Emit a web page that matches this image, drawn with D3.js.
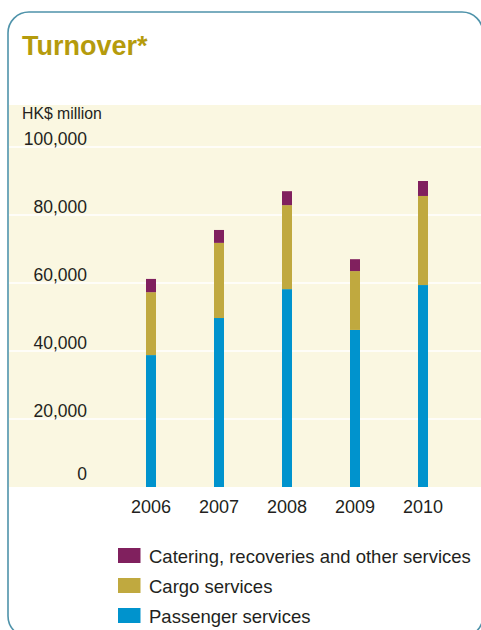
<!DOCTYPE html>
<html>
<head>
<meta charset="utf-8">
<script src="https://cdn.jsdelivr.net/npm/d3@7"></script>
<style>
  html, body { margin: 0; padding: 0; background: #ffffff; }
  svg { display: block; font-family: "Liberation Sans", Arial, sans-serif; }
</style>
</head>
<body>
<svg id="chart" width="481" height="630"></svg>
<script>
// Turnover by business line, HK$ million
const years = ["2006", "2007", "2008", "2009", "2010"];
const passenger = [38800, 49700, 58200, 46200, 59400];
const cargo = [18500, 22100, 24700, 17300, 26200];
const catering = [3900, 3800, 4100, 3500, 4400];
const yTicks = [0, 20000, 40000, 60000, 80000, 100000];

const seriesKeys = ["passenger", "cargo", "catering"];
const seriesNames = {
  catering: "Catering, recoveries and other services",
  cargo: "Cargo services",
  passenger: "Passenger services"
};
const colors = { passenger: "#0093cd", cargo: "#c0a93f", catering: "#80205e" };

const rows = years.map((y, i) => ({
  year: y, passenger: passenger[i], cargo: cargo[i], catering: catering[i]
}));
const stacked = d3.stack().keys(seriesKeys)(rows);

const svg = d3.select("#chart");

// Panel frame
svg.append("rect")
  .attr("x", 8).attr("y", 12)
  .attr("width", 475).attr("height", 625)
  .attr("rx", 21).attr("ry", 21)
  .attr("fill", "#ffffff")
  .attr("stroke", "#4f93aa").attr("stroke-width", 1.6);

// Title
svg.append("text")
  .attr("x", 22).attr("y", 55)
  .attr("fill", "#b59b0c")
  .attr("font-size", 27).attr("font-weight", "bold")
  .text("Turnover*");

// Plot area
const plotTop = 105, plotBottom = 487, plotLeft = 9, plotRight = 482;
svg.append("rect")
  .attr("x", plotLeft).attr("y", plotTop)
  .attr("width", plotRight - plotLeft).attr("height", plotBottom - plotTop)
  .attr("fill", "#faf7e1");

const y = d3.scaleLinear().domain([0, 100000]).range([487, 147]);
const x = d3.scaleBand().domain(years).range([117, 457]).paddingInner(0).align(0.5);
const barW = 10;

// Gridlines
svg.append("g")
  .selectAll("line")
  .data(yTicks.filter(d => d > 0))
  .join("line")
  .attr("x1", plotLeft).attr("x2", plotRight)
  .attr("y1", d => y(d)).attr("y2", d => y(d))
  .attr("stroke", "#ffffff").attr("stroke-width", 1.5);

// Unit label
svg.append("text")
  .attr("x", 22).attr("y", 119)
  .attr("fill", "#231f20").attr("font-size", 15.8)
  .text("HK$ million");

// Y axis
const yAxis = svg.append("g")
  .attr("transform", "translate(87,0)")
  .call(d3.axisLeft(y).tickValues(yTicks).tickSize(0).tickPadding(0)
    .tickFormat(d3.format(",")));
yAxis.select(".domain").remove();
yAxis.selectAll("text")
  .attr("font-size", 17.5)
  .attr("font-family", "Liberation Sans, Arial, sans-serif")
  .attr("fill", "#231f20")
  .attr("dy", d => d === 0 ? -8 : -3);

// Bars
svg.append("g")
  .selectAll("g")
  .data(stacked)
  .join("g")
  .attr("fill", d => colors[d.key])
  .selectAll("rect")
  .data(d => d)
  .join("rect")
  .attr("x", d => x(d.data.year) + x.bandwidth() / 2 - barW / 2)
  .attr("width", barW)
  .attr("y", d => y(d[1]))
  .attr("height", d => y(d[0]) - y(d[1]));

// X axis
const xAxis = svg.append("g")
  .attr("transform", "translate(0,487)")
  .call(d3.axisBottom(x).tickSize(0).tickPadding(0));
xAxis.select(".domain").remove();
xAxis.selectAll("text")
  .attr("font-size", 18)
  .attr("font-family", "Liberation Sans, Arial, sans-serif")
  .attr("fill", "#231f20")
  .attr("dy", 0).attr("y", 26);

// Legend
const legendOrder = ["catering", "cargo", "passenger"];
const legend = svg.append("g")
  .selectAll("g")
  .data(legendOrder)
  .join("g")
  .attr("transform", (d, i) => `translate(118,${548 + i * 30})`);
legend.append("rect")
  .attr("width", 22.5).attr("height", 15)
  .attr("fill", d => colors[d]);
legend.append("text")
  .attr("x", 31).attr("y", 14.5)
  .attr("font-size", 18.5)
  .attr("fill", "#231f20")
  .text(d => seriesNames[d]);
</script>
</body>
</html>
